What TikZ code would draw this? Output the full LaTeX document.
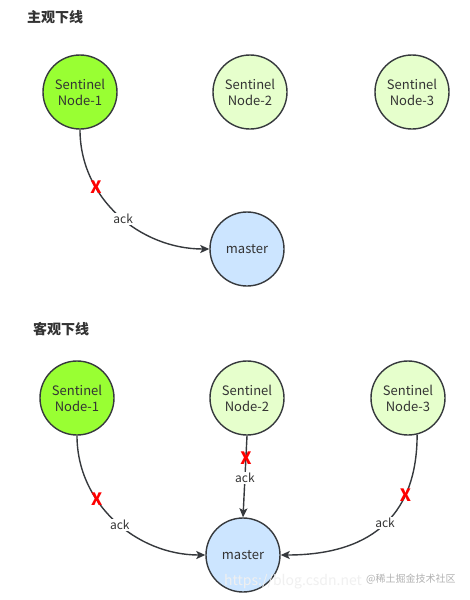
\documentclass[tikz,border=0pt]{standalone}
\usepackage{fontspec}
\setmainfont{Noto Sans CJK SC}
\usetikzlibrary{arrows.meta}
\definecolor{lineGray}{HTML}{36393D}
\definecolor{textGray}{HTML}{333333}
\definecolor{aliveGreen}{HTML}{99FF33}
\definecolor{paleGreen}{HTML}{E6FFCC}
\definecolor{paleBlue}{HTML}{CCE5FF}
\definecolor{crossRed}{HTML}{FF0000}

\tikzset{
  sentinel/.style={circle, draw=lineGray, line width=1.4pt, minimum size=74pt, inner sep=0pt,
    align=center, text=textGray, font=\fontsize{13}{16}\selectfont},
  alive/.style={sentinel, fill=aliveGreen},
  pale/.style={sentinel, fill=paleGreen},
  master/.style={sentinel, fill=paleBlue},
  title/.style={anchor=west, inner sep=0pt, text=textGray, font=\fontsize{14}{16}\selectfont\bfseries},
  ackline/.style={draw=lineGray, line width=1.4pt, -{Stealth[length=9pt,width=8pt,inset=2pt]}},
  acklabel/.style={fill=white, inner sep=1pt, text=textGray, font=\fontsize{12}{12}\selectfont},
  cross/.style={inner sep=0pt, text=crossRed, font=\fontsize{17}{17}\selectfont\bfseries}
}

\begin{document}
\begin{tikzpicture}[x=1pt, y=1pt]
  \useasboundingbox[fill=white] (0,0) rectangle (469,-600);

  % subjective down
  \node[title] (subj) at (27,-17) {主观下线};
  \node[alive] (sa) at (80,-92) {Sentinel\\Node-1};
  \node[pale] (sb) at (250,-92) {Sentinel\\Node-2};
  \node[pale] (sc) at (412,-92) {Sentinel\\Node-3};
  \node[master] (sm) at (247,-249) {master};
  \draw[ackline] (sa.south) to[out=-90, in=180]
    node[pos=0.31, cross] (sx) {X}
    node[pos=0.53, acklabel] (sack) {ack} (sm.west);

  % objective down
  \node[title] (obj) at (33,-329) {客观下线};
  \node[alive] (oa) at (77,-398) {Sentinel\\Node-1};
  \node[pale] (ob) at (247,-398) {Sentinel\\Node-2};
  \node[pale] (oc) at (408,-398) {Sentinel\\Node-3};
  \node[master] (om) at (243,-555) {master};
  \draw[ackline] (oa.south) to[out=-90, in=180]
    node[pos=0.35, cross] (oxa) {X}
    node[pos=0.53, acklabel] (oacka) {ack} (om.west);
  \draw[ackline] (ob.south) --
    node[pos=0.27, cross] (oxb) {X}
    node[pos=0.52, acklabel] (oackb) {ack} (om.north);
  \draw[ackline] (oc.-76) to[out=-90, in=0, looseness=1.2]
    node[pos=0.28, cross] (oxc) {X}
    node[pos=0.47, acklabel] (oackc) {ack} (om.east);

  % watermark
  \node[anchor=west, inner sep=0pt, text=gray!12, font=\fontsize{14}{14}\selectfont] (wurl) at (224,-582) {https://blog.csdn.net};
  \node[anchor=west, inner sep=0pt, text=gray!60, font=\fontsize{10}{10}\selectfont] (wsite) at (366,-579) {@稀土掘金技术社区};
\end{tikzpicture}
\end{document}
